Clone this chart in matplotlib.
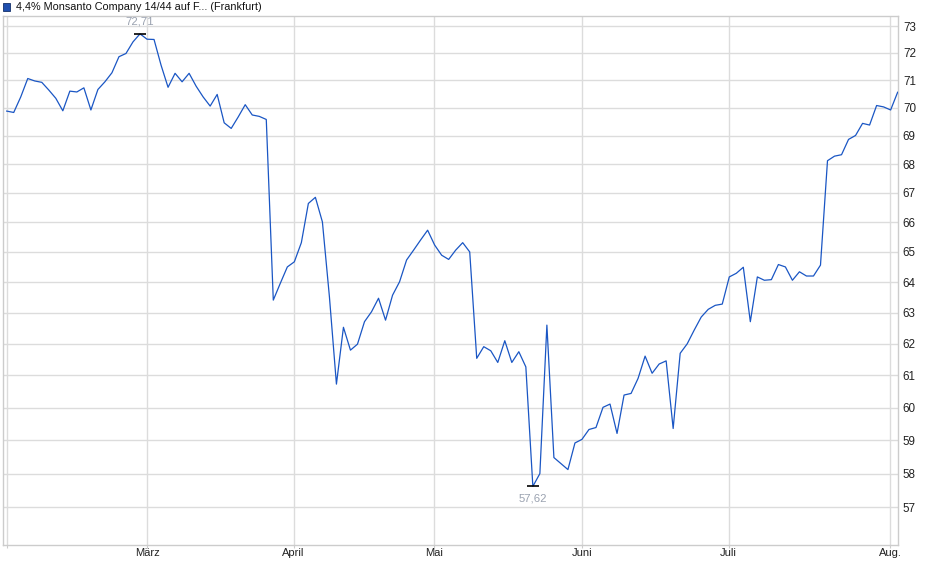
import matplotlib
matplotlib.use("Agg")
import matplotlib.pyplot as plt
from matplotlib.patches import Rectangle
from matplotlib.ticker import FixedLocator, NullLocator

plt.rcParams["font.family"] = ["Liberation Sans", "DejaVu Sans"]

# Kurse (Frankfurt), ein Wert je Handelstag, Feb. bis Anfang Aug.
prices = [
    69.88, 69.83, 70.39, 71.06, 70.97, 70.92, 70.64, 70.34, 69.89, 70.60,
    70.57, 70.72, 69.92, 70.66, 70.94, 71.27, 71.86, 71.98, 72.41, 72.71,
    72.51, 72.50, 71.55, 70.74, 71.25, 70.94, 71.25, 70.78, 70.39, 70.06,
    70.48, 69.46, 69.26, 69.67, 70.11, 69.74, 69.69, 69.58, 63.41, 63.96,
    64.50, 64.67, 65.31, 66.64, 66.85, 66.01, 63.52, 60.73, 62.53, 61.80,
    61.99, 62.71, 63.03, 63.47, 62.76, 63.57, 64.01, 64.73, 65.06, 65.40,
    65.73, 65.23, 64.89, 64.75, 65.06, 65.31, 65.00, 61.54, 61.91, 61.78,
    61.41, 62.10, 61.41, 61.75, 61.27, 57.62, 58.00, 62.60, 58.48, 58.30,
    58.12, 58.92, 59.03, 59.33, 59.39, 60.01, 60.11, 59.21, 60.39, 60.44,
    60.91, 61.61, 61.07, 61.36, 61.46, 59.36, 61.70, 62.00, 62.44, 62.86,
    63.11, 63.24, 63.28, 64.17, 64.29, 64.49, 62.71, 64.17, 64.06, 64.08,
    64.58, 64.50, 64.06, 64.34, 64.20, 64.20, 64.56, 68.12, 68.28, 68.33,
    68.87, 69.01, 69.44, 69.38, 70.08, 70.03, 69.92, 70.56,
]
month_labels = ["", "März", "April", "Mai", "Juni", "Juli", "Aug."]
month_pos = [0, 20.0, 40.9, 60.9, 82.0, 102.9, 125.9]
y_ticks = list(range(57, 74))
title = "4,4% Monsanto Company 14/44 auf F... (Frankfurt)"

W, H = 940, 579
fig = plt.figure(figsize=(W / 100, H / 100), dpi=100)
ax = fig.add_axes([2.5 / W, 1 - 545 / H, (898 - 2.5) / W, (545 - 16) / H])

x = list(range(len(prices)))
ax.plot(x, prices, color="#1a56c4", lw=0.9, zorder=3)

ax.set_yscale("log")
ax.set_ylim(55.91, 73.38)
ax.set_xlim(-0.6, 127.05)
ax.yaxis.set_major_locator(FixedLocator(y_ticks))
ax.yaxis.set_minor_locator(NullLocator())
ax.set_yticklabels([str(t) for t in y_ticks])
ax.set_xticks(month_pos)
ax.set_xticklabels(month_labels)
ax.xaxis.set_minor_locator(NullLocator())

ax.grid(True, color="#dcdcdc", lw=1.0, zorder=0)
ax.yaxis.tick_right()
ax.tick_params(axis="y", length=0, pad=3.5, labelsize=8.4, colors="#222222")
ax.tick_params(axis="x", length=2.0, width=0.8, color="#cccccc", pad=0.5,
               labelsize=8.0, labelcolor="#222222")
for s in ax.spines.values():
    s.set_color("#cccccc")
    s.set_linewidth(1.0)

# Hoch / Tief markieren
i_max = prices.index(max(prices))
i_min = prices.index(min(prices))
for i, dy, va in [(i_max, 5, "bottom"), (i_min, -5, "top")]:
    ax.plot(i, prices[i], marker="_", color="black", ms=9, mew=1.2, zorder=4)
    ax.annotate(f"{prices[i]:.2f}".replace(".", ","), (i, prices[i]),
                xytext=(0, dy), textcoords="offset points", ha="center",
                va=va, fontsize=8.2, color="#9aa2b0")

# Legende oben links
fig.patches.append(Rectangle((3 / W, 1 - 10.5 / H), 7 / W, 7 / H,
                             transform=fig.transFigure, facecolor="#1f4fae",
                             edgecolor="#14306a", lw=0.6))
fig.text(15.5 / W, 1 - 7 / H, title, fontsize=7.8, color="#111111",
         va="center", ha="left")

fig.savefig("out.png", dpi=100)
